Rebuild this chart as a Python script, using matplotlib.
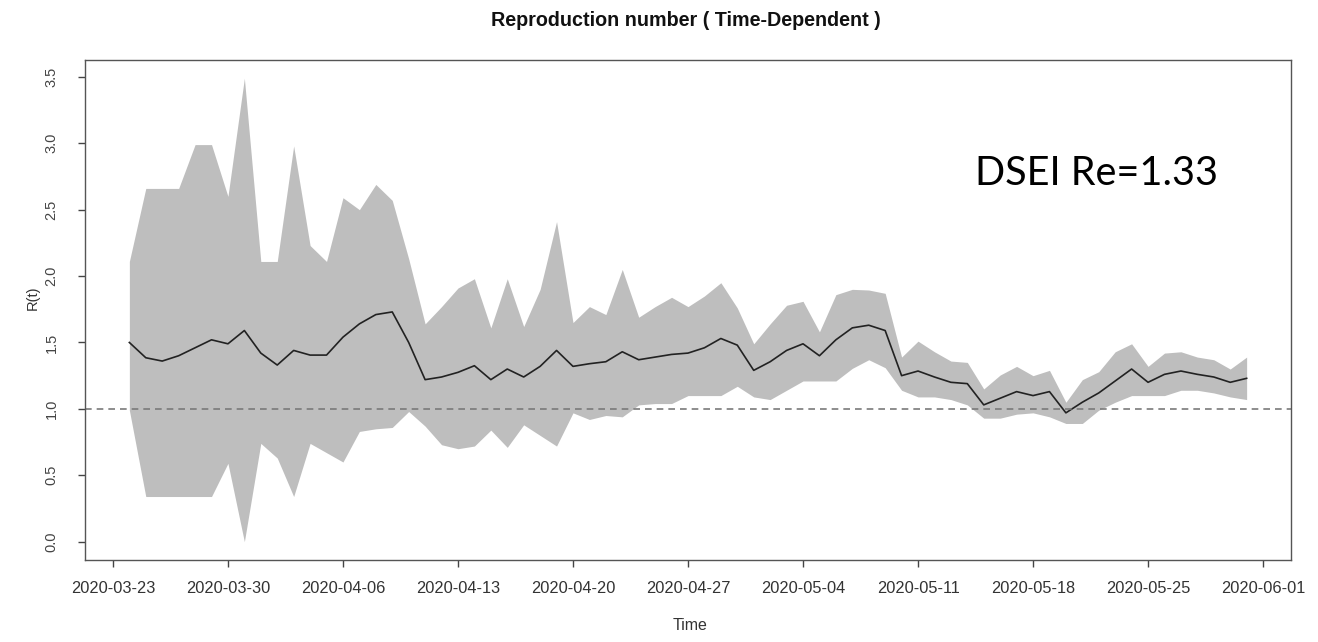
import numpy as np
import matplotlib
matplotlib.use('Agg')
import matplotlib.pyplot as plt
import matplotlib.dates as mdates
from matplotlib import font_manager as fm

# daily estimates, 2020-03-24 .. 2020-05-31
start = np.datetime64('2020-03-24')
r_mean = [1.50, 1.385, 1.36, 1.40, 1.46, 1.52, 1.49, 1.59, 1.42, 1.33,
          1.44, 1.405, 1.405, 1.54, 1.64, 1.71, 1.73, 1.50, 1.22, 1.24,
          1.275, 1.325, 1.22, 1.30, 1.24, 1.32, 1.44, 1.32, 1.34, 1.355,
          1.43, 1.37, 1.39, 1.41, 1.42, 1.46, 1.53, 1.48, 1.29, 1.355,
          1.44, 1.49, 1.40, 1.52, 1.61, 1.63, 1.59, 1.25, 1.285, 1.24,
          1.20, 1.19, 1.03, 1.08, 1.13, 1.10, 1.13, 0.97, 1.05, 1.12,
          1.21, 1.30, 1.20, 1.26, 1.285, 1.26, 1.24, 1.20, 1.23]
r_upper = [2.11, 2.66, 2.66, 2.66, 2.99, 2.99, 2.60, 3.49, 2.11, 2.11,
           2.98, 2.23, 2.11, 2.59, 2.50, 2.69, 2.57, 2.13, 1.64, 1.77,
           1.91, 1.98, 1.61, 1.98, 1.62, 1.90, 2.41, 1.65, 1.77, 1.71,
           2.05, 1.69, 1.77, 1.84, 1.77, 1.85, 1.95, 1.76, 1.49, 1.64,
           1.78, 1.81, 1.58, 1.86, 1.90, 1.895, 1.87, 1.39, 1.51, 1.43,
           1.36, 1.35, 1.15, 1.255, 1.32, 1.25, 1.29, 1.05, 1.22, 1.28,
           1.43, 1.49, 1.32, 1.42, 1.43, 1.39, 1.37, 1.30, 1.39]
r_lower = [0.99, 0.34, 0.34, 0.34, 0.34, 0.34, 0.59, 0.00, 0.74, 0.63,
           0.34, 0.74, 0.67, 0.60, 0.83, 0.85, 0.86, 0.98, 0.87, 0.73,
           0.70, 0.72, 0.84, 0.71, 0.88, 0.80, 0.72, 0.97, 0.92, 0.95,
           0.94, 1.03, 1.04, 1.04, 1.10, 1.10, 1.10, 1.17, 1.09, 1.07,
           1.14, 1.21, 1.21, 1.21, 1.305, 1.37, 1.31, 1.14, 1.09, 1.09,
           1.07, 1.03, 0.93, 0.93, 0.96, 0.97, 0.94, 0.89, 0.89, 0.99,
           1.05, 1.10, 1.10, 1.10, 1.14, 1.14, 1.12, 1.09, 1.07]
tick_dates = ['2020-03-23', '2020-03-30', '2020-04-06', '2020-04-13', '2020-04-20',
              '2020-04-27', '2020-05-04', '2020-05-11', '2020-05-18', '2020-05-25',
              '2020-06-01']
y_ticks = [0.0, 0.5, 1.0, 1.5, 2.0, 2.5, 3.0, 3.5]
note = 'DSEI Re=1.33'

def pick(*names):
    for n in names:
        try:
            fm.findfont(fm.FontProperties(family=n), fallback_to_default=False)
            return n
        except Exception:
            pass
    return 'DejaVu Sans'

regular = pick('Liberation Sans')
note_font = pick('Lato', 'Open Sans')

dates = start + np.arange(len(r_mean))
x = mdates.date2num(dates.astype('datetime64[D]').astype(object))
t0 = mdates.date2num(np.datetime64('2020-03-23').astype(object))

fig = plt.figure(figsize=(13.18, 6.42), dpi=100)
ax = fig.add_axes([85/1318, 1-560/642, (1291-85)/1318, (560-60)/642])

ax.fill_between(x, r_lower, r_upper, color='#bebebe', linewidth=0)
ax.plot(x, r_mean, color='#222222', lw=1.2)
ax.axhline(1.0, color='#7a7a7a', lw=1.2, ls=(0, (4, 3)))

ax.set_xlim(t0 - 1.7, t0 + 71.7)
ax.set_ylim(-0.138, 3.627)

tx = [mdates.date2num(np.datetime64(d).astype(object)) for d in tick_dates]
ax.set_xticks(tx)
ax.set_xticklabels(tick_dates, fontfamily=regular, fontsize=11.8, color='#333333')
ax.set_yticks(y_ticks)
ax.set_yticklabels([f'{v:.1f}' for v in y_ticks], rotation=90, va='center',
                   fontfamily=regular, fontsize=10.5, color='#444444')
ax.tick_params(axis='both', direction='out', length=5, width=1, color='#444444')
ax.tick_params(axis='x', pad=10)
ax.tick_params(axis='y', pad=14)
for s in ax.spines.values():
    s.set_color('#555555')
    s.set_linewidth(1)

fig.text(686/1318, 1-20/642, 'Reproduction number ( Time-Dependent )', ha='center', va='center',
         fontfamily=regular, fontweight='bold', fontsize=14.2, color='#111111')
fig.text(690/1318, 1-625/642, 'Time', ha='center', va='center',
         fontfamily=regular, fontsize=11.5, color='#333333')
fig.text(33/1318, 1-298/642, 'R(t)', ha='center', va='center', rotation=90,
         fontfamily=regular, fontsize=10.5, color='#333333')
ax.text(975/1318, 1-174/642, note, transform=fig.transFigure, ha='left', va='center',
        fontfamily=note_font, fontsize=28.5, color='#000000')

fig.savefig('out.png', dpi=100)
